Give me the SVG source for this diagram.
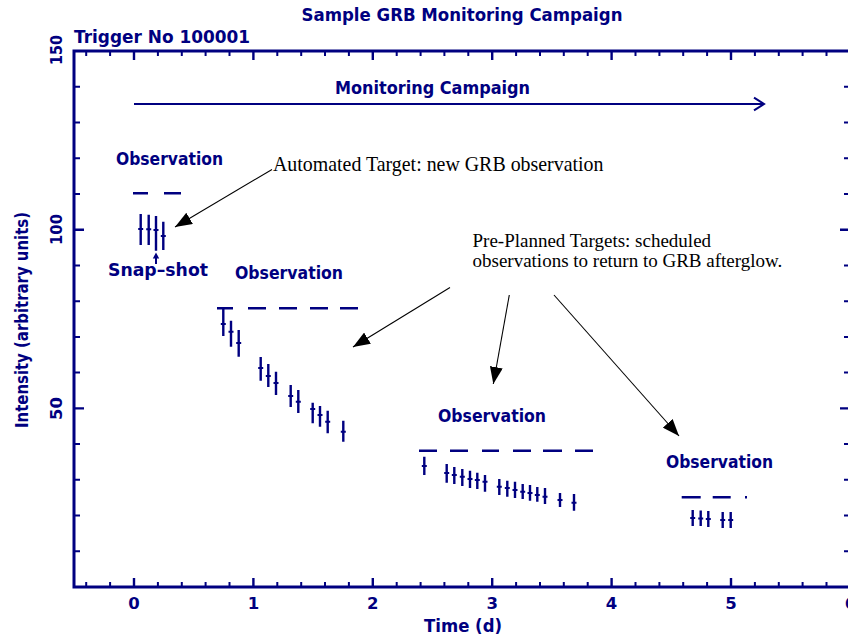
<svg xmlns="http://www.w3.org/2000/svg" width="848" height="640" viewBox="0 0 848 640">
  <style>
    .ink { fill: none; stroke: #000080; stroke-linecap: butt; }
    .lbl { font-family: "DejaVu Sans", "Liberation Sans", sans-serif; font-weight: bold; fill: #000080; }
    .note { font-family: "Liberation Serif", "Times New Roman", serif; fill: #000000; }
    .pointer { fill: none; stroke: #000000; stroke-width: 1.1; marker-end: url(#head); }
  </style>
  <defs>
    <marker id="head" markerUnits="userSpaceOnUse" markerWidth="18" markerHeight="13" refX="17" refY="6.5" orient="auto">
      <path d="M0,0 L17,6.5 L0,13 Z" fill="#000000"/>
    </marker>
  </defs>

  <rect width="848" height="640" fill="#ffffff"/>

  <!-- plot frame and ticks -->
  <g id="axes">
    <rect x="74" y="51" width="776" height="536" class="ink" stroke-width="3"/>
    <!-- bottom axis ticks -->
    <path class="ink" stroke-width="2" d="M86.2 587v-5 M110.1 587v-5 M157.9 587v-5 M181.8 587v-5 M205.6 587v-5 M229.5 587v-5 M277.3 587v-5 M301.2 587v-5 M325 587v-5 M348.9 587v-5 M396.7 587v-5 M420.6 587v-5 M444.4 587v-5 M468.3 587v-5 M516.1 587v-5 M540 587v-5 M563.8 587v-5 M587.7 587v-5 M635.5 587v-5 M659.4 587v-5 M683.2 587v-5 M707.1 587v-5 M754.9 587v-5 M778.8 587v-5 M802.6 587v-5 M826.5 587v-5"/>
    <path class="ink" stroke-width="2.4" d="M134 587v-9 M253.4 587v-9 M372.8 587v-9 M492.2 587v-9 M611.6 587v-9 M731 587v-9"/>
    <!-- top axis ticks -->
    <path class="ink" stroke-width="2" d="M86.2 51v5 M110.1 51v5 M157.9 51v5 M181.8 51v5 M205.6 51v5 M229.5 51v5 M277.3 51v5 M301.2 51v5 M325 51v5 M348.9 51v5 M396.7 51v5 M420.6 51v5 M444.4 51v5 M468.3 51v5 M516.1 51v5 M540 51v5 M563.8 51v5 M587.7 51v5 M635.5 51v5 M659.4 51v5 M683.2 51v5 M707.1 51v5 M754.9 51v5 M778.8 51v5 M802.6 51v5 M826.5 51v5"/>
    <path class="ink" stroke-width="2.4" d="M134 51v9 M253.4 51v9 M372.8 51v9 M492.2 51v9 M611.6 51v9 M731 51v9"/>
    <!-- left axis ticks -->
    <path class="ink" stroke-width="2" d="M74 551.3h6 M74 515.6h6 M74 479.8h6 M74 444.1h6 M74 372.6h6 M74 336.9h6 M74 301.2h6 M74 265.4h6 M74 193.9h6 M74 158.2h6 M74 122.5h6 M74 86.7h6"/>
    <path class="ink" stroke-width="2.4" d="M74 408.4h10 M74 229.7h10"/>
    <!-- right axis ticks -->
    <path class="ink" stroke-width="2" d="M850 551.3h-6 M850 515.6h-6 M850 479.8h-6 M850 444.1h-6 M850 372.6h-6 M850 336.9h-6 M850 301.2h-6 M850 265.4h-6 M850 193.9h-6 M850 158.2h-6 M850 122.5h-6 M850 86.7h-6"/>
    <path class="ink" stroke-width="2.4" d="M850 408.4h-10 M850 229.7h-10"/>
  </g>

  <!-- axis numbers and titles -->
  <g id="axis-labels" class="lbl">
    <text x="462" y="21" font-size="17" text-anchor="middle" textLength="321" lengthAdjust="spacingAndGlyphs">Sample GRB Monitoring Campaign</text>
    <text x="74" y="43" font-size="17" textLength="176" lengthAdjust="spacingAndGlyphs">Trigger No 100001</text>
    <g font-size="16.5" text-anchor="middle">
      <text x="134" y="609">0</text>
      <text x="253.4" y="609">1</text>
      <text x="372.8" y="609">2</text>
      <text x="492.2" y="609">3</text>
      <text x="611.6" y="609">4</text>
      <text x="731" y="609">5</text>
      <text x="850.4" y="609">6</text>
    </g>
    <text x="463" y="632" font-size="17" text-anchor="middle" textLength="78" lengthAdjust="spacingAndGlyphs">Time (d)</text>
    <g font-size="16.5" text-anchor="middle">
      <text transform="translate(61.5 50) rotate(-90)" textLength="30" lengthAdjust="spacingAndGlyphs">150</text>
      <text transform="translate(61.5 229.5) rotate(-90)" textLength="31" lengthAdjust="spacingAndGlyphs">100</text>
      <text transform="translate(61.5 408.5) rotate(-90)">50</text>
    </g>
    <text transform="translate(27.5 320) rotate(-90)" font-size="17" text-anchor="middle" textLength="216" lengthAdjust="spacingAndGlyphs">Intensity (arbitrary units)</text>
  </g>

  <!-- campaign span arrow -->
  <g id="campaign">
    <text class="lbl" x="335" y="94" font-size="17" textLength="195" lengthAdjust="spacingAndGlyphs">Monitoring Campaign</text>
    <path class="ink" stroke-width="2" d="M134 104H764"/>
    <path class="ink" stroke-width="2" stroke-linejoin="miter" d="M754 97.7L764 104L754 110.3"/>
  </g>

  <!-- first observation: snap-shot -->
  <g id="obs1">
    <text class="lbl" x="116" y="165" font-size="17" textLength="107" lengthAdjust="spacingAndGlyphs">Observation</text>
    <path class="ink" stroke-width="2.4" d="M133 193.3H148 M164 193.3H181"/>
    <path class="ink" stroke-width="2.4" d="M140.7 214V245 M148.7 214.7V245 M156 216V250.7 M163.3 221.7V250"/>
    <path class="ink" stroke-width="2" d="M138.2 229h5 M146.2 229.3h5 M153.5 230h5 M160.8 236h5"/>
    <path class="ink" stroke-width="2" d="M156 264V257"/>
    <path d="M152.8 258.5L156 252.5L159.2 258.5Z" fill="#000080"/>
    <text class="lbl" x="108" y="275.5" font-size="17" textLength="100" lengthAdjust="spacingAndGlyphs">Snap–shot</text>
  </g>

  <!-- second observation -->
  <g id="obs2">
    <text class="lbl" x="235" y="278.5" font-size="17" textLength="108" lengthAdjust="spacingAndGlyphs">Observation</text>
    <path class="ink" stroke-width="2.4" d="M217 308.3H233 M248 308.3H266 M279 308.3H297 M310 308.3H328 M340 308.3H358"/>
    <path class="ink" stroke-width="2.4" d="M223.3 308.5V336 M231 320.7V346.7 M238.7 330V356.7 M260.7 357V380.7 M268.3 364V387 M276 371.7V395 M290.7 385V407 M298.3 390V413 M312.7 402.7V423.3 M320 406V426.7 M327.7 410.7V433.3 M343.3 420.7V441.7"/>
    <path class="ink" stroke-width="2" d="M220.8 324h5 M228.5 331.7h5 M236.2 343h5 M258.2 368h5 M265.8 376h5 M273.5 383h5 M288.2 396h5 M295.8 401.7h5 M310.2 409h5 M317.5 415h5 M325.2 421.7h5 M340.8 431.7h5"/>
  </g>

  <!-- third observation -->
  <g id="obs3">
    <text class="lbl" x="438" y="421.5" font-size="17" textLength="108" lengthAdjust="spacingAndGlyphs">Observation</text>
    <path class="ink" stroke-width="2.4" d="M419 450.7H437 M450 450.7H468 M482 450.7H499 M513 450.7H531 M543 450.7H562 M575 450.7H593"/>
    <path class="ink" stroke-width="2.4" d="M424.3 456.7V475 M446.7 464V482.7 M454.3 467V484 M462.3 469V486 M470 470.7V488 M477.3 472.7V489 M485 475V491.7 M499.3 479V495 M507.3 480.7V496.7 M515 481.7V498 M522.7 484V499 M530 485V500.7 M537.3 487V501.7 M545 488V504 M560 493V507 M574 494V510.7"/>
    <path class="ink" stroke-width="2" d="M421.8 466h5 M444.2 473h5 M451.8 475h5 M459.8 476.7h5 M467.5 479h5 M474.8 480h5 M482.5 481.7h5 M496.8 486.7h5 M504.8 488h5 M512.5 490h5 M520.2 491.7h5 M527.5 493h5 M534.8 495h5 M542.5 496.7h5 M557.5 500h5 M571.5 502.7h5"/>
  </g>

  <!-- fourth observation -->
  <g id="obs4">
    <text class="lbl" x="666" y="468" font-size="17" textLength="107" lengthAdjust="spacingAndGlyphs">Observation</text>
    <path class="ink" stroke-width="2.4" d="M681.7 497.3H700.7 M712.7 497.3H730.7 M745 497.3H747"/>
    <path class="ink" stroke-width="2.4" d="M692.7 510V526 M700.7 510.5V526 M708.3 511V527 M722.7 512V528 M730.7 512V528"/>
    <path class="ink" stroke-width="2" d="M690.2 518h5 M698.2 518.5h5 M705.8 519h5 M720.2 520h5 M728.2 520h5"/>
  </g>

  <!-- annotation texts -->
  <g id="note-automated">
    <text class="note" x="273" y="171" font-size="19.9">Automated Target: new GRB observation</text>
  </g>
  <g id="note-preplanned" font-size="19">
    <text class="note" x="472.5" y="246.5">Pre-Planned Targets: scheduled</text>
    <text class="note" x="472.5" y="266.5">observations to return to GRB afterglow.</text>
  </g>

  <!-- annotation pointers -->
  <g id="connectors">
    <path class="pointer" d="M272 169.5L175 227"/>
    <path class="pointer" d="M450 287.5L353 347"/>
    <path class="pointer" d="M509.3 295L493.3 384"/>
    <path class="pointer" d="M554 295L679 436"/>
  </g>
</svg>
